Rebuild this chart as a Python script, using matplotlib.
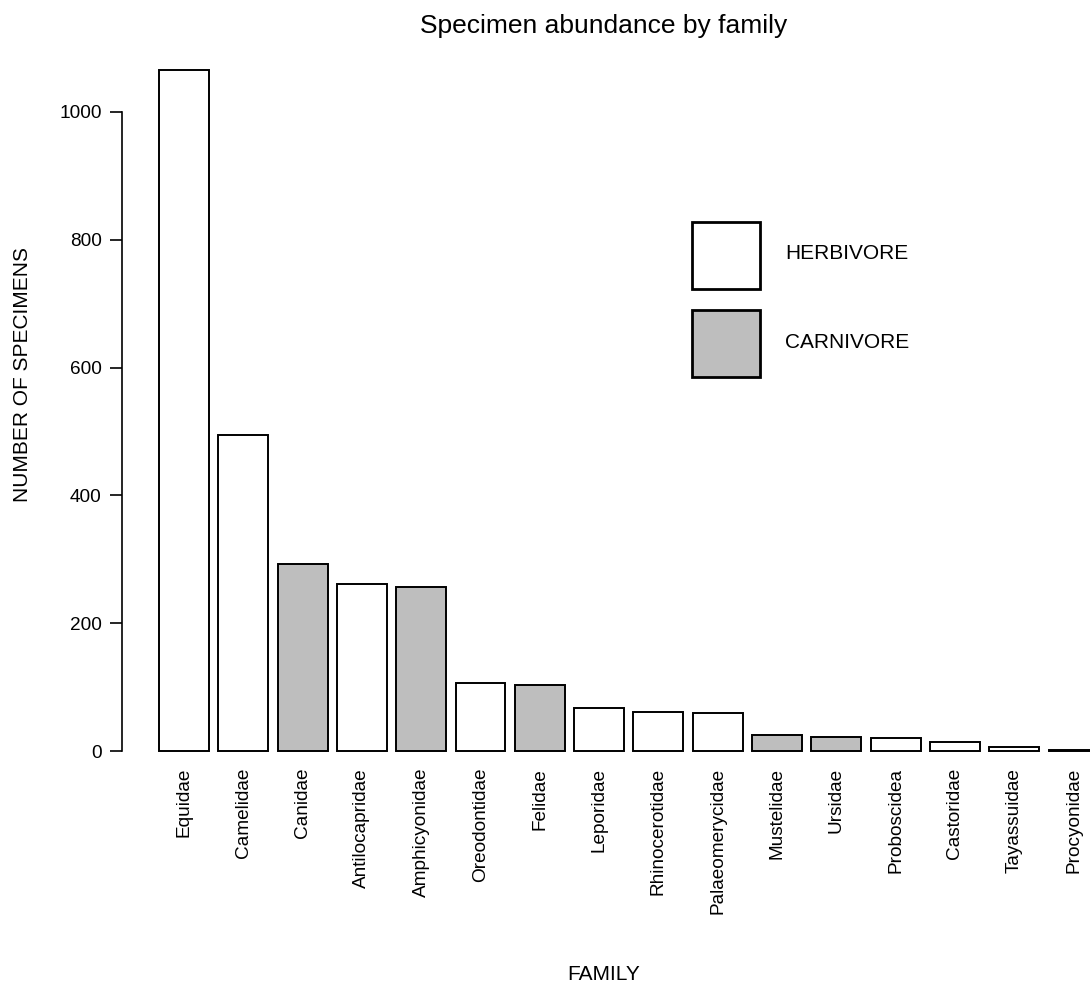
import matplotlib
matplotlib.use("Agg")
import matplotlib.pyplot as plt
from matplotlib.patches import Rectangle
import numpy as np

plt.rcParams["font.family"] = ["Liberation Sans", "DejaVu Sans"]

# dados
familias = ["Equidae", "Camelidae", "Canidae", "Antilocapridae", "Amphicyonidae",
            "Oreodontidae", "Felidae", "Leporidae", "Rhinocerotidae", "Palaeomerycidae",
            "Mustelidae", "Ursidae", "Proboscidea", "Castoridae", "Tayassuidae",
            "Procyonidae"]
contagens = [1065, 495, 292, 261, 257, 106, 104, 67, 61, 60, 25, 22, 21, 14, 6, 1]
dieta = ["H", "H", "C", "H", "C", "H", "C", "H", "H", "H", "C", "C", "H", "H", "H", "C"]

rotulos = {"H": "HERBIVORE", "C": "CARNIVORE"}
cores = {"H": "white", "C": "#bebebe"}

W, H = 1090, 986
fig = plt.figure(figsize=(W / 100, H / 100), dpi=100)

# eixo em pixels: esquerda 122, base (y=0) 751, topo 40, direita = borda da figura
px_unit = 0.639
ax = fig.add_axes([122 / W, 1 - 751 / H, 1 - 122 / W, (751 - 40) / H])
x = np.arange(len(familias))
ax.bar(x, contagens, width=0.843, color=[cores[d] for d in dieta],
       edgecolor="black", linewidth=1.4, clip_on=False)
ax.set_xlim((122 - 184) / 59.3, (1090 - 184) / 59.3)
ax.set_ylim(0, (751 - 40) / px_unit)

for s in ["top", "right", "bottom"]:
    ax.spines[s].set_visible(False)
ax.spines["left"].set_bounds(0, 1000)
ax.spines["left"].set_linewidth(1.2)
ax.set_yticks(np.arange(0, 1001, 200))
ax.tick_params(axis="y", length=9, width=1.2, pad=5.5, labelsize=13.7)
ax.set_xticks(x)
ax.set_xticklabels(familias, rotation=90, va="top", ha="center")
ax.tick_params(axis="x", length=0, pad=12.2, labelsize=13.7)

# títulos
fig.text(604 / W, 1 - 33 / H, "Specimen abundance by family", ha="center",
         va="baseline", fontsize=19)
fig.text(604 / W, 1 - 980 / H, "FAMILY", ha="center", va="baseline", fontsize=15)
fig.text(23 / W, 1 - 375 / H, "NUMBER OF SPECIMENS", rotation=90, ha="center",
         va="center", fontsize=15)

# legenda
for i, d in enumerate(["H", "C"]):
    y_top = 222 + i * 88
    fig.add_artist(Rectangle((692 / W, 1 - (y_top + 67) / H), 68 / W, 67 / H,
                             transform=fig.transFigure, facecolor=cores[d],
                             edgecolor="black", linewidth=2))
    fig.text(785 / W, 1 - (y_top + 32) / H, rotulos[d], ha="left", va="center",
             fontsize=15)

fig.savefig("out.png", dpi=100)
